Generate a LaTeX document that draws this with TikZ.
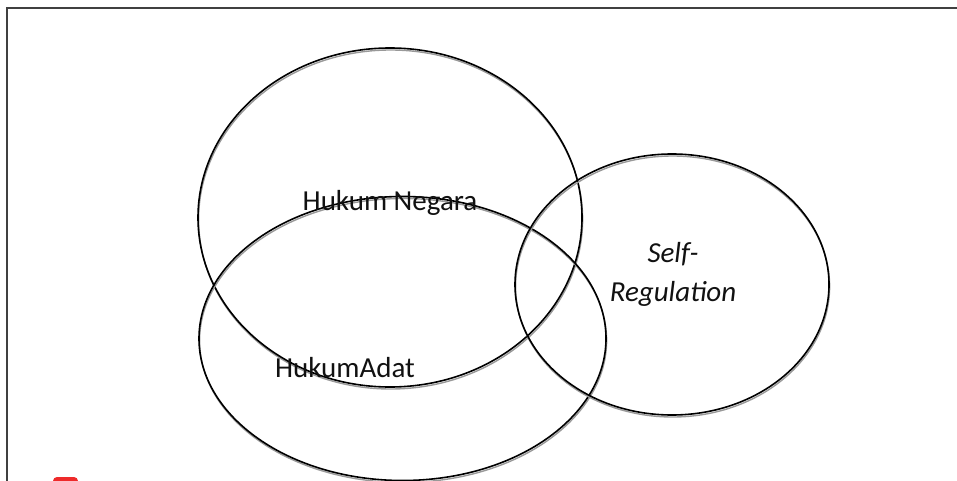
\documentclass[tikz,border=0pt]{standalone}
\usepackage{fontspec}
\setmainfont{Carlito}
\usetikzlibrary{shapes.geometric,shadows}
\definecolor{txt}{HTML}{111111}
\definecolor{redmark}{HTML}{EE2A2A}
\tikzset{
  venn/.style={ellipse, draw=black, line width=1.6pt, inner sep=0pt, fill=none,
    general shadow={shadow xshift=0.6pt, shadow yshift=-2pt, draw=black!40, line width=1.4pt, fill=none}},
  lbl/.style={font=\fontsize{29}{39}\selectfont, text=txt, inner sep=0pt, align=center},
  frameline/.style={draw=black!75, line width=1.9pt}
}
\begin{document}
\begin{tikzpicture}[x=1pt,y=-1pt]
\useasboundingbox (0,0) rectangle (957,481);
\clip (0,0) rectangle (957,481);
\coordinate (ftr) at (957,8);
\coordinate (ftl) at (7,8);
\coordinate (fbl) at (7,481);
\draw[frameline] (ftr) -- (ftl) -- (fbl);
\node[fill=redmark, rounded corners=4pt, minimum width=25pt, minimum height=14pt, inner sep=0pt] (mark) at (65.5,484) {};
\node[venn, minimum width=384pt, minimum height=339pt] (negara) at (390,217.5) {};
\node[venn, minimum width=407pt, minimum height=284pt] (adat) at (402.5,338.5) {};
\node[venn, minimum width=314pt, minimum height=261pt] (self) at (672,284.5) {};
\node[lbl] (tnegara) at (390,203) {Hukum Negara};
\node[lbl] (tadat) at (345,368) {HukumAdat};
\node[lbl, font=\fontsize{29}{39}\selectfont\itshape] (tself) at (673,274) {Self-\\Regulation};
\end{tikzpicture}
\end{document}
